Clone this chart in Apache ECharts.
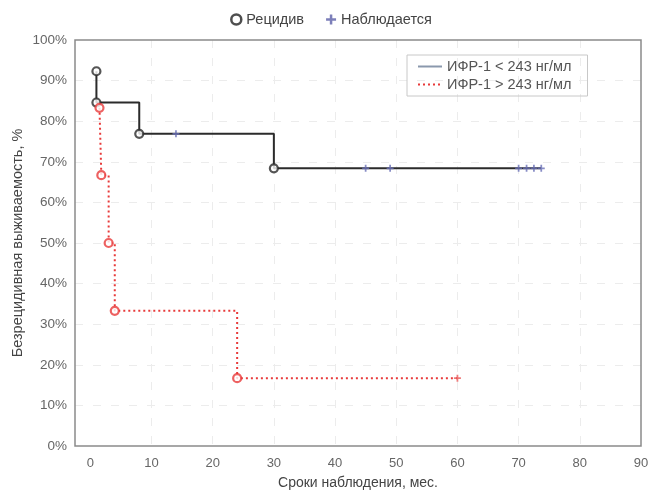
<!DOCTYPE html>
<html>
<head>
<meta charset="utf-8">
<script src="https://cdn.jsdelivr.net/npm/echarts@6/dist/echarts.min.js"></script>
<style>
  html, body { margin: 0; padding: 0; background: #fff; }
  #chart { width: 662px; height: 492px; }
</style>
</head>
<body>
<div id="chart"></div>
<script>
// группа ИФР-1 < 243 нг/мл
const lowEventTime = [1, 1, 8, 30];
const lowEventSurv = [92.3, 84.6, 76.9, 68.4];
const lowCensTime = [14, 45, 49, 70, 71.3, 72.5, 73.7];
const lowCensSurv = [76.9, 68.4, 68.4, 68.4, 68.4, 68.4, 68.4];

// группа ИФР-1 > 243 нг/мл
const highEventTime = [1.5, 1.8, 3, 4, 24];
const highEventSurv = [83.3, 66.7, 50, 33.3, 16.7];
const highCensTime = [60];
const highCensSurv = [16.7];

const xTicks = [0, 10, 20, 30, 40, 50, 60, 70, 80, 90];
const lowName = "ИФР-1 < 243 нг/мл";
const highName = "ИФР-1 > 243 нг/мл";

const font = "Liberation Sans, Arial, sans-serif";
const plusPath = "path://M3,0H5V3H8V5H5V8H3V5H0V3H3Z";

// точки ступенчатой кривой: события + цензурированные, по времени
function curve(et, es, ct, cs) {
  let pts = [];
  et.forEach((t, i) => pts.push([t, es[i]]));
  ct.forEach((t, i) => pts.push([t, cs[i]]));
  pts.sort((a, b) => a[0] - b[0] || b[1] - a[1]);
  return pts;
}
function zip(a, b) {
  return a.map((v, i) => [v, b[i]]);
}

let myChart = echarts.init(document.getElementById("chart"));

let gridLine = { show: true, showMinLine: false, showMaxLine: false, lineStyle: { color: "#ececec", type: [8, 10], width: 1 } };
let noSymbol = { color: "rgba(0,0,0,0)", borderWidth: 0 };

let option = {
  animation: false,
  textStyle: { fontFamily: font },
  legend: [
    {
      top: 7,
      left: "center",
      itemWidth: 10,
      itemHeight: 10,
      itemGap: 22,
      textStyle: { fontSize: 14.5, color: "#444", fontFamily: font },
      data: [
        { name: "Рецидив", icon: "circle", itemStyle: { color: "#fff", borderColor: "#222", borderWidth: 2.5 } },
        { name: "Наблюдается", icon: plusPath, itemStyle: { color: "#5b5fa8" } },
      ],
    },
    {
      orient: "vertical",
      left: 407,
      top: 55,
      width: 180,
      padding: [4, 16, 4, 10],
      itemGap: 3,
      itemWidth: 24,
      itemHeight: 10,
      borderColor: "#c8c8c8",
      borderWidth: 1,
      textStyle: { fontSize: 14.5, color: "#555", fontFamily: font },
      data: [
        { name: lowName, itemStyle: noSymbol, lineStyle: { color: "#8a98ad", width: 2 } },
        { name: highName, itemStyle: noSymbol, lineStyle: { color: "#e83a3a", width: 2, type: [2, 3] } },
      ],
    },
  ],
  grid: {
    left: 75,
    right: 21,
    top: 40,
    bottom: 46,
    outerBoundsMode: "none",
    show: true,
    borderColor: "#8a8a8a",
    borderWidth: 1.5,
    z: 5,
  },
  xAxis: {
    type: "value",
    min: -2.5,
    max: 90,
    name: "Сроки наблюдения, мес.",
    nameLocation: "middle",
    nameGap: 30,
    nameTextStyle: { fontSize: 14, color: "#444" },
    axisLine: { show: false },
    axisTick: { show: false, customValues: xTicks },
    axisLabel: { customValues: xTicks, fontSize: 13, color: "#666", margin: 11 },
    splitLine: gridLine,
  },
  yAxis: {
    type: "value",
    min: 0,
    max: 100,
    interval: 10,
    name: "Безрецидивная выживаемость, %",
    nameLocation: "middle",
    nameGap: 50,
    nameMoveOverlap: false,
    nameTextStyle: { fontSize: 14.5, color: "#444" },
    axisLine: { show: false },
    axisTick: { show: false },
    axisLabel: { formatter: "{value}%", fontSize: 13.5, color: "#666", margin: 8 },
    splitLine: gridLine,
  },
  series: [
    {
      name: lowName,
      type: "line",
      step: "end",
      symbol: "none",
      lineStyle: { color: "#2b2b2b", width: 2 },
      itemStyle: { color: "#2b2b2b" },
      data: curve(lowEventTime, lowEventSurv, lowCensTime, lowCensSurv),
      z: 2,
    },
    {
      name: highName,
      type: "line",
      step: "end",
      symbol: "none",
      lineStyle: { color: "#e83a3a", width: 2, type: [2, 3] },
      itemStyle: { color: "#e83a3a" },
      data: curve(highEventTime, highEventSurv, highCensTime, highCensSurv),
      z: 2,
    },
    {
      name: "Наблюдается",
      type: "scatter",
      symbol: plusPath,
      symbolSize: 7,
      itemStyle: { color: "#6a70b8" },
      data: zip(lowCensTime, lowCensSurv),
      z: 3,
    },
    {
      name: "Наблюдается",
      type: "scatter",
      symbol: plusPath,
      symbolSize: 7,
      itemStyle: { color: "#e85a5a" },
      data: zip(highCensTime, highCensSurv),
      z: 3,
    },
    {
      name: "Рецидив",
      type: "scatter",
      symbol: "circle",
      symbolSize: 8,
      itemStyle: { color: "#fff", borderColor: "#2b2b2b", borderWidth: 2.2 },
      data: zip(lowEventTime, lowEventSurv),
      z: 4,
    },
    {
      name: "Рецидив",
      type: "scatter",
      symbol: "circle",
      symbolSize: 8,
      itemStyle: { color: "#fff", borderColor: "#e83a3a", borderWidth: 2.2 },
      data: zip(highEventTime, highEventSurv),
      z: 4,
    },
  ],
};

myChart.setOption(option);
</script>
</body>
</html>
